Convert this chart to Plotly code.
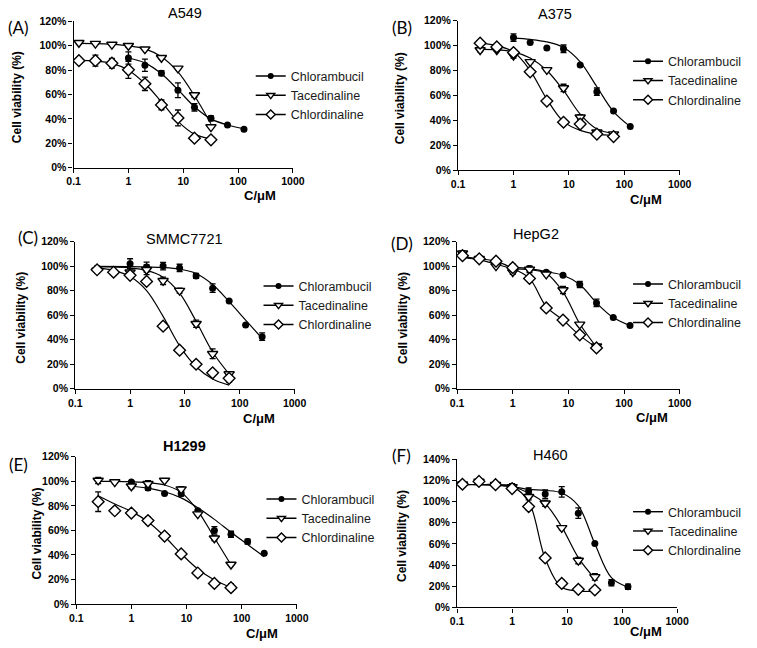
"""
Cell viability dose-response panels (A)-(F)
"""

import plotly.graph_objects as go

W, H = 757, 648

COMPOUNDS = ["Chlorambucil", "Tacedinaline", "Chlordinaline"]
CELL_LINES = ["A549", "A375", "SMMC7721", "HepG2", "H1299", "H460"]
PANEL_LABELS = ["(A)", "(B)", "(C)", "(D)", "(E)", "(F)"]
X_TICKS = [0.1, 1, 10, 100, 1000]
X_TICK_TEXT = ["0.1", "1", "10", "100", "1000"]

# ---- (A) A549
A_CB_X = [1, 2, 4, 8, 16, 32, 64, 128]
A_CB_Y = [90, 84, 77.5, 63.5, 49.5, 40.5, 35, 31.5]
A_CB_ERR = [5, 5, 2, 6, 3, 2, 0, 0]
A_CB_FIT = [90, 86, 77, 64, 50, 40, 35, 32]
A_TD_X = [0.125, 0.25, 0.5, 1, 2, 4, 8, 16, 32]
A_TD_Y = [102.5, 101.8, 101, 100, 97.2, 90.2, 81.5, 59.6, 33.3]
A_TD_ERR = [1, 0.5, 0.5, 1, 1, 1, 1, 2, 1]
A_TD_FIT = [102, 101.8, 101.2, 100, 97.5, 91, 78.5, 59, 36]
A_CD_X = [0.125, 0.25, 0.5, 1, 2, 4, 8, 16, 32]
A_CD_Y = [87.8, 87.8, 85.7, 80.3, 68.8, 51.5, 40.8, 24.2, 22.8]
A_CD_ERR = [1, 4.5, 4, 7, 5.5, 4, 6.5, 1, 2]
A_CD_FIT = [88, 87.5, 85.5, 80, 69, 54, 38, 27.5, 23.5]

# ---- (B) A375
B_CB_X = [1, 2, 4, 8, 16, 32, 64, 128]
B_CB_Y = [106.5, 102.5, 98, 97.5, 84.5, 63, 47.5, 35]
B_CB_ERR = [3, 0, 0, 3, 0, 3, 0, 0]
B_CB_FIT = [106, 105, 103, 98.5, 87, 67, 47, 35]
B_TD_X = [0.25, 0.5, 1, 2, 4, 8, 16, 32, 64]
B_TD_Y = [96.5, 96.5, 92, 87, 80.5, 66, 42.5, 30.5, 29]
B_TD_ERR = [1.5, 1, 2, 1, 1, 3, 2, 1, 1]
B_TD_FIT = [97, 96.7, 95, 90, 80, 64, 45, 33, 29.5]
B_CD_X = [0.25, 0.5, 1, 2, 4, 8, 16, 32, 64]
B_CD_Y = [102, 99, 94.5, 79, 55.5, 38.5, 37, 29, 27]
B_CD_ERR = [1, 1, 1, 2, 1, 1, 1, 1.5, 1]
B_CD_FIT = [102, 100, 95, 80, 57, 39, 32, 29, 28]

# ---- (C) SMMC7721
C_CB_X = [0.25, 1, 2, 4, 8, 16, 32, 64, 128, 256]
C_CB_Y = [98, 102, 99.2, 100, 98.5, 92, 82, 71.5, 52, 42.5]
C_CB_ERR = [2, 4, 4, 3, 3, 2, 3.5, 0, 0, 3]
C_CB_FIT = [99.7, 99.5, 99.2, 98.8, 97.5, 94, 85, 71, 56, 41]
C_TD_X = [0.25, 1, 2, 4, 8, 16, 32, 64]
C_TD_Y = [96.5, 95, 97, 88, 80, 53, 28.5, 12]
C_TD_ERR = [2, 3, 4, 3, 2, 3, 4, 2]
C_TD_FIT = [99.5, 98.5, 96.5, 91, 78, 55, 30, 12]
C_CD_X = [0.25, 0.5, 1, 2, 4, 8, 16, 32, 64]
C_CD_Y = [97, 95, 92.5, 87.5, 51, 31.5, 20, 13, 8.5]
C_CD_ERR = [2, 1, 2, 2, 2, 1.5, 2.5, 2, 3]
C_CD_FIT = [98.5, 96.5, 91.5, 80, 59, 35, 18, 8, 3]

# ---- (D) HepG2
D_CB_X = [1, 2, 4, 8, 16, 32, 64, 128]
D_CB_Y = [99.5, 98, 95, 92.5, 85, 70, 58, 51.5]
D_CB_ERR = [2, 2, 1, 0, 2.5, 3, 0, 0]
D_CB_FIT = [99, 98, 95.5, 92.5, 85, 70, 58, 51.5]
D_TD_X = [0.125, 0.25, 0.5, 1, 2, 4, 8, 16, 32]
D_TD_Y = [110.5, 106, 100, 95.2, 97.3, 93.3, 80.5, 52.5, 34.7]
D_TD_ERR = [2, 1, 1, 2, 2.5, 1, 3, 1, 1]
D_TD_FIT = [107, 105, 101.5, 98, 97, 94, 79, 53, 34]
D_CD_X = [0.125, 0.25, 0.5, 1, 2, 4, 8, 16, 32]
D_CD_Y = [108.5, 105.9, 104, 98.7, 89.9, 65.9, 56, 44, 33.3]
D_CD_ERR = [1, 1, 1, 1, 2, 1, 1, 1, 1.5]
D_CD_FIT = [107.5, 106, 104, 98, 90, 67, 56, 43.5, 33.5]

# ---- (E) H1299
E_CB_X = [1, 2, 4, 8, 16, 32, 64, 128, 256]
E_CB_Y = [99.4, 94.6, 90.1, 90, 76, 60, 56.8, 50.9, 41.3]
E_CB_ERR = [1, 2, 0, 2, 1, 3, 2.5, 2, 0]
E_CB_FIT = [96, 94.5, 91.5, 86.5, 78.5, 69, 58.5, 48.5, 38.5]
E_TD_X = [0.25, 0.5, 1, 2, 4, 8, 16, 32, 64]
E_TD_Y = [100.7, 99.4, 96, 98, 100.7, 93.6, 73.3, 53.6, 32.2]
E_TD_ERR = [2.5, 0.5, 2, 2.5, 0.5, 2, 1, 2, 0.5]
E_TD_FIT = [100, 100, 99.7, 99, 97, 91, 76, 54, 32]
E_CD_X = [0.25, 0.5, 1, 2, 4, 8, 16, 32, 64]
E_CD_Y = [83.4, 76, 74.1, 68, 55.4, 40.8, 25.3, 16.8, 13.3]
E_CD_ERR = [8, 2.5, 1, 3, 1, 1, 2, 2.5, 3]
E_CD_FIT = [88.2, 81.5, 75.5, 67, 55, 41, 28.5, 19.5, 13.5]

# ---- (F) H460
F_CB_X = [0.125, 0.25, 0.5, 1, 2, 4, 8, 16, 32, 64, 128]
F_CB_Y = [116.3, 119, 115.9, 113.8, 109.8, 107, 109.1, 89, 60.3, 23.2, 19.5]
F_CB_ERR = [2, 2, 2, 3, 3, 4, 5, 5, 0, 3, 2.5]
F_CB_FIT = [116, 116, 115.5, 114, 111.5, 110.5, 108, 96, 60, 28, 19]
F_TD_X = [0.125, 0.25, 0.5, 1, 2, 4, 8, 16, 32]
F_TD_Y = [116.3, 119, 115.9, 113.8, 104.5, 98.3, 75.1, 44.2, 28.8]
F_TD_ERR = [2, 2, 2, 3, 3, 3, 2, 3, 3]
F_TD_FIT = [116, 116, 115.5, 114, 108, 98, 76, 47, 27]
F_CD_X = [0.125, 0.25, 0.5, 1, 2, 4, 8, 16, 32]
F_CD_Y = [116.3, 119, 115.9, 112.2, 95.2, 46.7, 22.6, 17, 16.4]
F_CD_ERR = [2, 2, 2, 3, 3, 1, 3, 1, 2.5]
F_CD_FIT = [116, 116, 116, 114, 100, 46, 19, 15.5, 15]

SERIES = [
    [(A_CB_X, A_CB_Y, A_CB_ERR, A_CB_FIT), (A_TD_X, A_TD_Y, A_TD_ERR, A_TD_FIT),
     (A_CD_X, A_CD_Y, A_CD_ERR, A_CD_FIT)],
    [(B_CB_X, B_CB_Y, B_CB_ERR, B_CB_FIT), (B_TD_X, B_TD_Y, B_TD_ERR, B_TD_FIT),
     (B_CD_X, B_CD_Y, B_CD_ERR, B_CD_FIT)],
    [(C_CB_X, C_CB_Y, C_CB_ERR, C_CB_FIT), (C_TD_X, C_TD_Y, C_TD_ERR, C_TD_FIT),
     (C_CD_X, C_CD_Y, C_CD_ERR, C_CD_FIT)],
    [(D_CB_X, D_CB_Y, D_CB_ERR, D_CB_FIT), (D_TD_X, D_TD_Y, D_TD_ERR, D_TD_FIT),
     (D_CD_X, D_CD_Y, D_CD_ERR, D_CD_FIT)],
    [(E_CB_X, E_CB_Y, E_CB_ERR, E_CB_FIT), (E_TD_X, E_TD_Y, E_TD_ERR, E_TD_FIT),
     (E_CD_X, E_CD_Y, E_CD_ERR, E_CD_FIT)],
    [(F_CB_X, F_CB_Y, F_CB_ERR, F_CB_FIT), (F_TD_X, F_TD_Y, F_TD_ERR, F_TD_FIT),
     (F_CD_X, F_CD_Y, F_CD_ERR, F_CD_FIT)],
]
Y_MAX = [120, 120, 120, 120, 120, 140]

# Layout in pixels: plot box (x0, x1, y0, y1)
BOXES = [
    (68.3, 293.3, 15.7, 164.7),
    (462.7, 690.0, 15.0, 167.3),
    (70.0, 295.0, 240.0, 390.0),
    (461.7, 690.0, 240.0, 390.0),
    (71.0, 297.3, 459.3, 609.3),
    (461.7, 687.3, 461.7, 612.7),
]
# panel letter, title, y-title x, x-title, legend (left x, y-mid)
LETTER_POS = [(12, 22), (405, 22), (22, 236), (405, 242), (12, 467), (405, 458)]
TITLE_POS = [(183, 7), (562, 8), (182, 237), (543, 232), (182, 448), (557, 457)]
YTITLE_X = [11, 404, 14, 406, 31, 405]
XTITLE_POS = [(260, 193), (655, 197), (258, 420), (662, 419), (262, 639), (655, 637)]
LEGEND_POS = [(250, 91), (637, 76), (258, 305), (637, 303), (261, 522), (637, 535)]

MARKERS = [
    dict(symbol="circle", size=7, color="black", line=dict(color="black", width=0)),
    dict(symbol="triangle-down", size=9, color="white", line=dict(color="black", width=1.4)),
    dict(symbol="diamond", size=9, color="white", line=dict(color="black", width=1.4)),
]
LEGEND_MARKERS = [
    dict(symbol="circle", size=6, color="black", line=dict(color="black", width=0)),
    dict(symbol="triangle-down", size=7, color="white", line=dict(color="black", width=1.4)),
    dict(symbol="diamond", size=7, color="white", line=dict(color="black", width=1.4)),
]

FONT = "Liberation Sans, Arial, sans-serif"


def px_x(x):
    return x / W


def px_y(y):
    return 1 - y / H


fig = go.Figure()
annotations = []

for i, panel in enumerate(SERIES):
    n = "" if i == 0 else str(i + 1)
    xref, yref = f"x{n}", f"y{n}"
    legend_id = f"legend{n}"

    for j, (xs, ys, errs, fit) in enumerate(panel):
        # fitted curve
        fig.add_trace(
            go.Scatter(
                x=xs, y=fit, mode="lines", xaxis=xref, yaxis=yref,
                line=dict(color="black", width=1.2, shape="spline", smoothing=1),
                showlegend=False, hoverinfo="skip",
            )
        )
        # mean +/- error
        fig.add_trace(
            go.Scatter(
                x=xs, y=ys, mode="markers", xaxis=xref, yaxis=yref,
                marker=MARKERS[j],
                error_y=dict(type="data", array=errs, color="black",
                             thickness=1.3, width=3),
                showlegend=False, name=COMPOUNDS[j],
            )
        )
        # legend entry
        fig.add_trace(
            go.Scatter(
                x=[None], y=[None], mode="lines+markers", xaxis=xref, yaxis=yref,
                marker=LEGEND_MARKERS[j], line=dict(color="black", width=1.4),
                name=COMPOUNDS[j], legend=legend_id, showlegend=True,
            )
        )

    x0, x1, y0, y1 = BOXES[i]
    axis_common = dict(
        showline=True, linecolor="black", linewidth=1.3, mirror=False,
        ticks="outside", ticklen=4, tickwidth=1.3, tickcolor="black",
        showgrid=False, zeroline=False,
        tickfont=dict(family=FONT, size=10.5, color="black", weight="bold"),
    )
    yvals = list(range(0, Y_MAX[i] + 1, 20))
    lx_leg, ly_leg = LEGEND_POS[i]
    fig.update_layout({
        f"xaxis{n}": dict(
            axis_common, type="log", range=[-1, 3], anchor=yref,
            domain=[px_x(x0), px_x(x1)],
            tickvals=X_TICKS, ticktext=X_TICK_TEXT,
        ),
        f"yaxis{n}": dict(
            axis_common, range=[0, Y_MAX[i]], anchor=xref,
            domain=[px_y(y1), px_y(y0)],
            tickvals=yvals, ticktext=[f"{v}%" for v in yvals],
        ),
        legend_id: dict(
            x=px_x(lx_leg), xanchor="left", y=px_y(ly_leg), yanchor="middle",
            bgcolor="rgba(0,0,0,0)", borderwidth=0,
            font=dict(family=FONT, size=12.5, color="#1a1a1a"),
            itemwidth=30,
        ),
    })

    lx, ly = LETTER_POS[i]
    tx, ty = TITLE_POS[i]
    xtx, xty = XTITLE_POS[i]
    annotations += [
        dict(text=PANEL_LABELS[i], x=px_x(lx), y=px_y(ly), showarrow=False,
             font=dict(family="Lato, sans-serif", size=17, color="black")),
        dict(text=f"<b>{CELL_LINES[i]}</b>" if CELL_LINES[i] == "H1299" else CELL_LINES[i],
             x=px_x(tx), y=px_y(ty), showarrow=False,
             font=dict(family=FONT, size=14.5, color="black")),
        dict(text="<b>Cell viability (%)</b>", x=px_x(YTITLE_X[i]),
             y=px_y((y0 + y1) / 2 + 3), textangle=-90, showarrow=False,
             font=dict(family=FONT, size=12, color="black")),
        dict(text="<b>C/μM</b>", x=px_x(xtx), y=px_y(xty), showarrow=False,
             font=dict(family=FONT, size=13, color="black")),
    ]
    for a in annotations[-4:]:
        a.update(xref="paper", yref="paper", xanchor="center", yanchor="middle")

fig.update_layout(
    width=W, height=H,
    margin=dict(l=0, r=0, t=0, b=0),
    plot_bgcolor="white", paper_bgcolor="white",
    annotations=annotations,
    font=dict(family=FONT, color="black"),
)

fig.write_html(
    "out.html",
    config={"displayModeBar": False},
    post_script="document.body.style.margin = '0';",
)
